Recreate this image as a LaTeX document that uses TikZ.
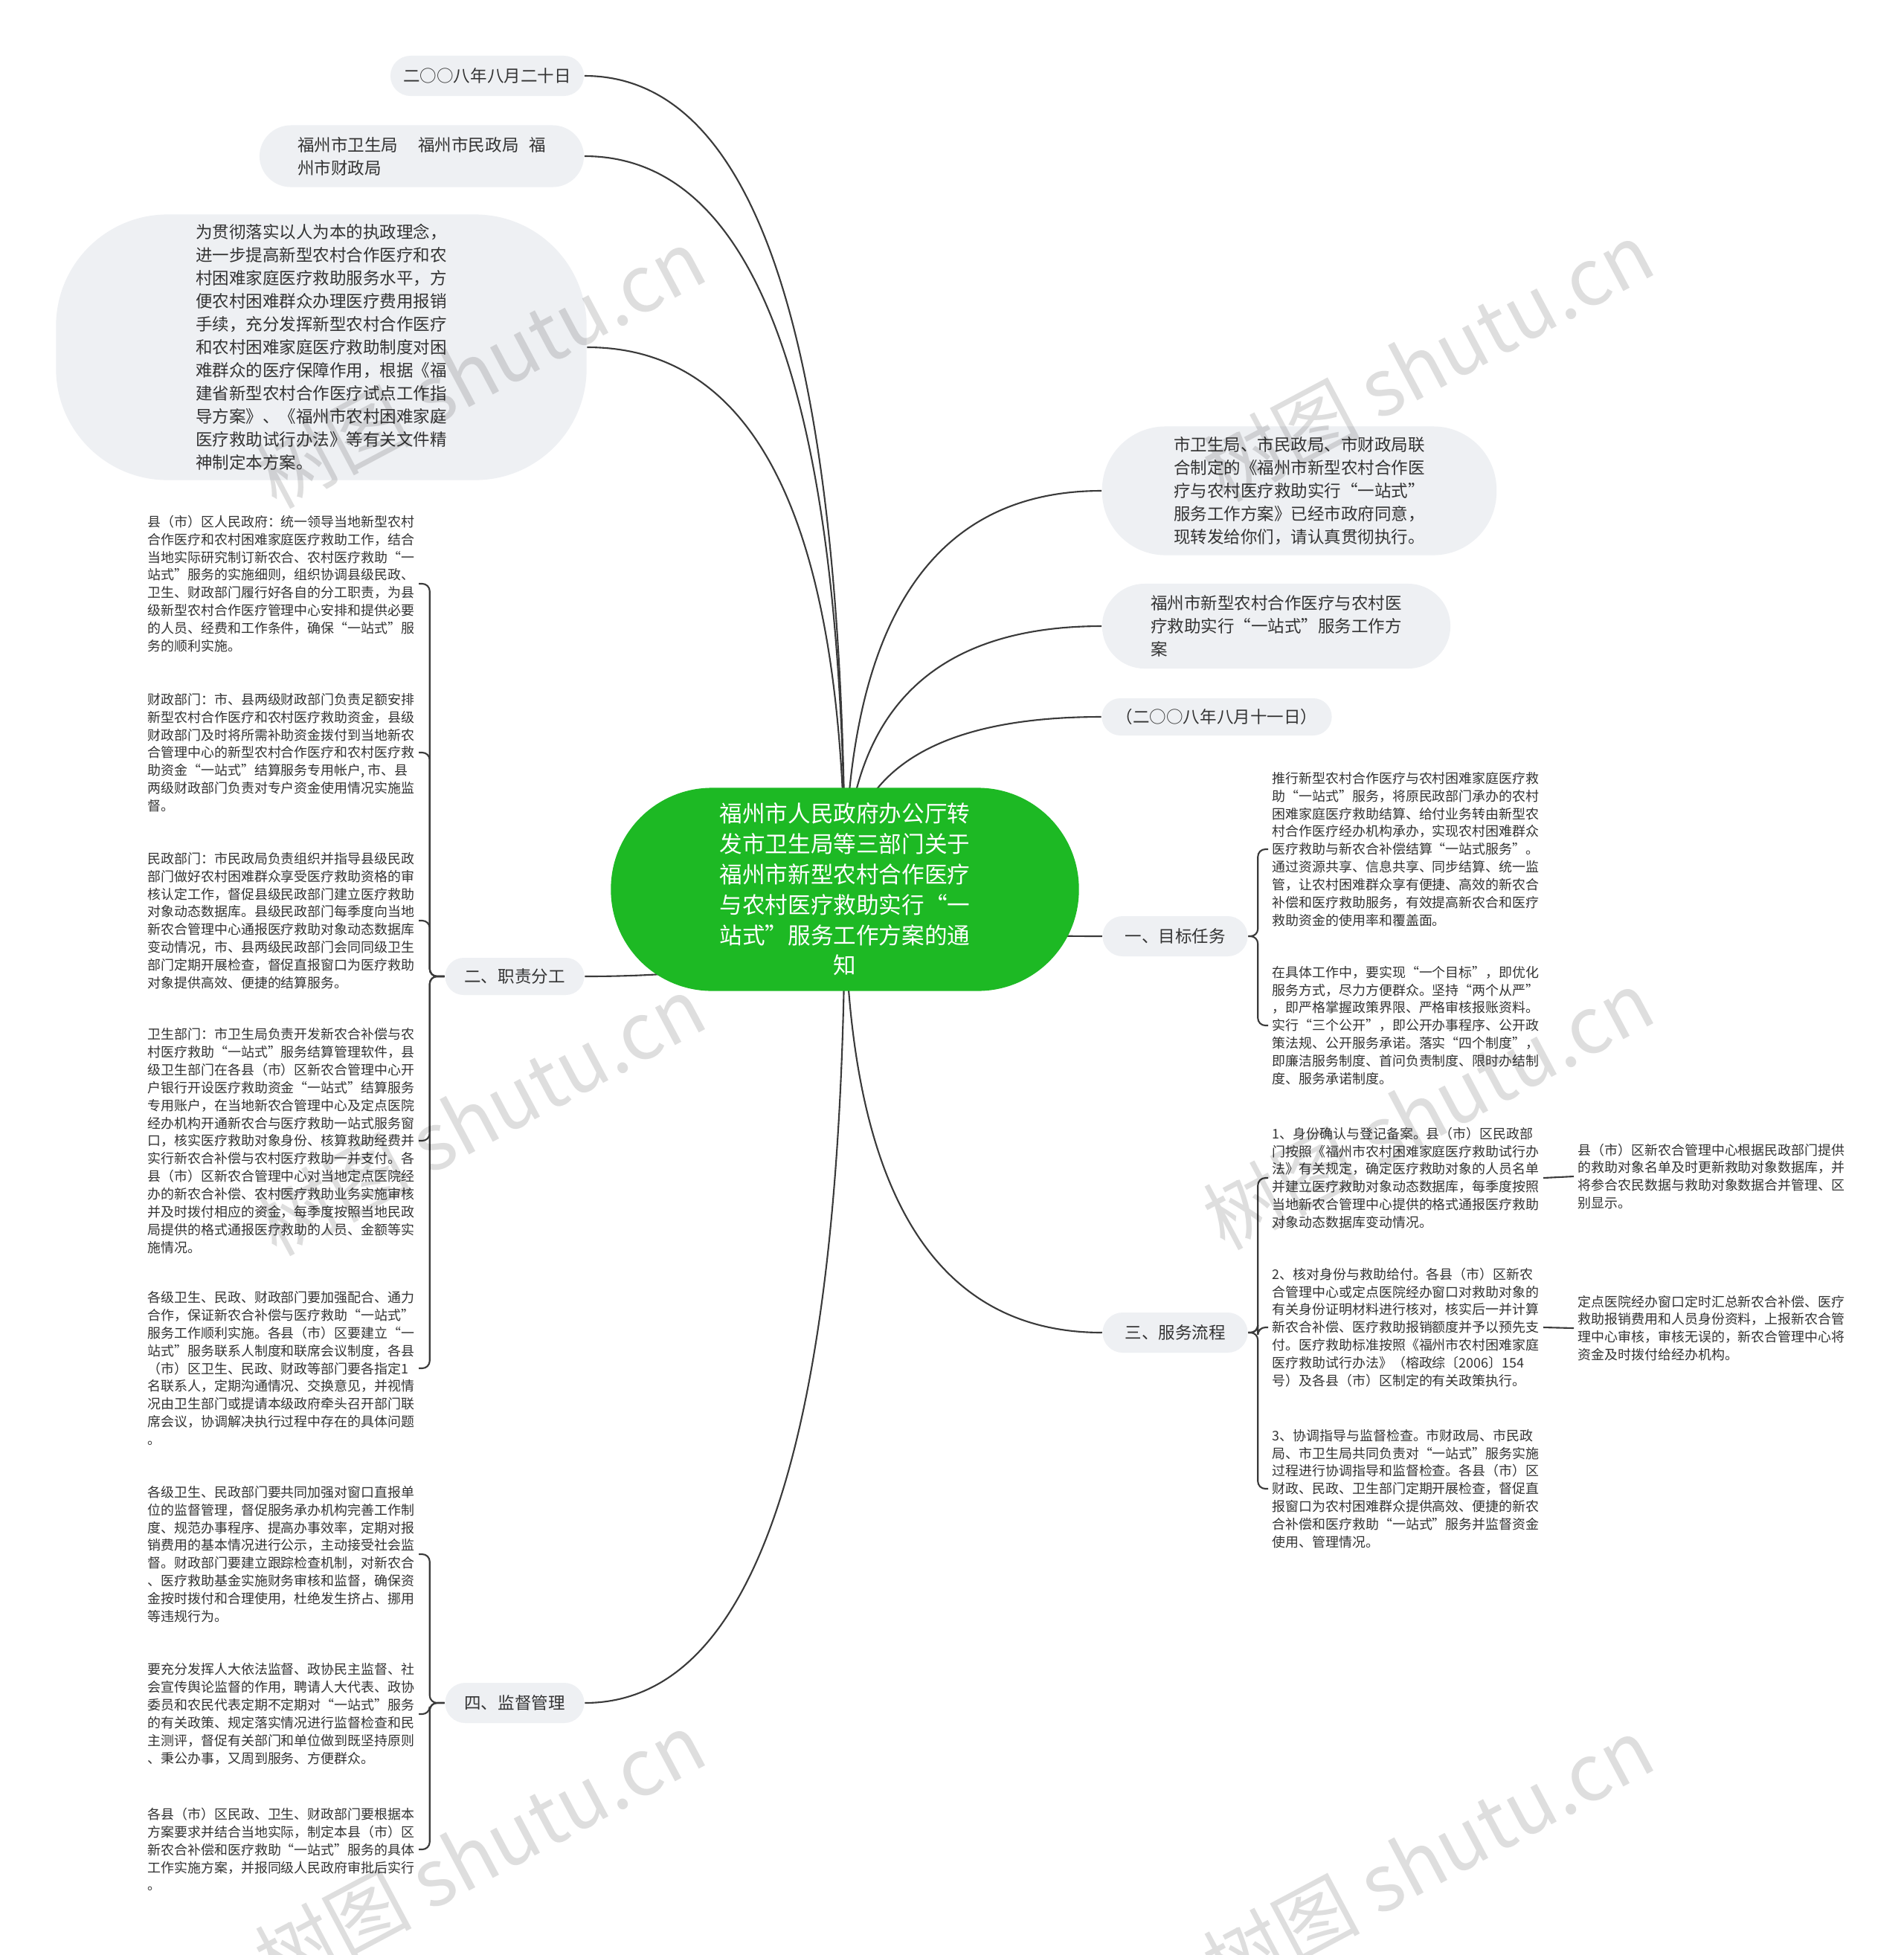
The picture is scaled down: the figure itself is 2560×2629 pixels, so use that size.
\documentclass[tikz,border=0pt]{standalone}
\usepackage{fontspec}
\setmainfont{Noto Sans CJK SC}
\usepackage{xcolor}
\usetikzlibrary{backgrounds,calc}
\definecolor{rootgreen}{RGB}{29,185,36}
\definecolor{topicgray}{HTML}{EEF0F3}
\definecolor{txtgray}{HTML}{333333}
\definecolor{linegray}{HTML}{3A3A3A}

\begin{document}
\begin{tikzpicture}[x=0.01cm, y=-0.01cm,
  topic/.style={fill=topicgray, text=txtgray, align=left, inner sep=0pt, rounded corners=#1, font=\fontsize{6.4}{8.8}\selectfont},
  topic/.default=0.27cm,
  leaf/.style={text=txtgray, align=left, inner sep=0.5mm, font=\fontsize{5.1}{6.8}\selectfont},
  link/.style={draw=linegray, line width=0.6pt},
  brace/.style={link, rounded corners=1mm},
  wmark/.style={text=black, text opacity=0.13, rotate=28, font=\fontsize{30}{30}\selectfont}]
\useasboundingbox (0,0) rectangle (2560,2629);

% root
\node[fill=rootgreen, text=white, rounded corners=1.36cm, minimum width=6.29cm, minimum height=2.73cm, align=center, inner sep=0pt, font=\fontsize{8.7}{11.6}\selectfont] (root) at (1136,1196) {福州市人民政府办公厅转\\发市卫生局等三部门关于\\福州市新型农村合作医疗\\与农村医疗救助实行“一\\站式”服务工作方案的通\\知};

% first level
\node[topic, minimum width=2.60cm, minimum height=0.54cm] (d1) at (655,102) {二○○八年八月二十日};
\node[topic=0.42cm, minimum width=4.36cm, minimum height=0.83cm] (bu) at (567,210) {福州市卫生局\hspace{1.2em}福州市民政局\hspace{0.6em}福\\州市财政局};
\node[topic=1.5cm, minimum width=7.13cm, minimum height=3.57cm] (pre) at (432,467) {为贯彻落实以人为本的执政理念，\\进一步提高新型农村合作医疗和农\\村困难家庭医疗救助服务水平，方\\便农村困难群众办理医疗费用报销\\手续，充分发挥新型农村合作医疗\\和农村困难家庭医疗救助制度对困\\难群众的医疗保障作用，根据《福\\建省新型农村合作医疗试点工作指\\导方案》、《福州市农村困难家庭\\医疗救助试行办法》等有关文件精\\神制定本方案。};
\node[topic=0.85cm, minimum width=5.30cm, minimum height=1.73cm] (note) at (1747,660) {市卫生局、市民政局、市财政局联\\合制定的《福州市新型农村合作医\\疗与农村医疗救助实行“一站式”\\服务工作方案》已经市政府同意，\\现转发给你们，请认真贯彻执行。};
\node[topic=0.57cm, minimum width=4.68cm, minimum height=1.14cm] (plan) at (1716,842) {福州市新型农村合作医疗与农村医\\疗救助实行“一站式”服务工作方\\案};
\node[topic=0.25cm, minimum width=3.09cm, minimum height=0.50cm] (d2) at (1636,964) {（二○○八年八月十一日）};
\node[topic, minimum width=1.95cm, minimum height=0.54cm] (goal) at (1580,1259) {一、目标任务};
\node[topic, minimum width=1.95cm, minimum height=0.54cm] (flow) at (1580,1792) {三、服务流程};
\node[topic=0.25cm, minimum width=1.87cm, minimum height=0.50cm] (duty) at (692,1313) {二、职责分工};
\node[topic, minimum width=1.87cm, minimum height=0.54cm] (sup) at (692,2290) {四、监督管理};

% 二、职责分工
\node[leaf, anchor=east] (l1) at (563,785) {县（市）区人民政府：统一领导当地新型农村\\合作医疗和农村困难家庭医疗救助工作，结合\\当地实际研究制订新农合、农村医疗救助“一\\站式”服务的实施细则，组织协调县级民政、\\卫生、财政部门履行好各自的分工职责，为县\\级新型农村合作医疗管理中心安排和提供必要\\的人员、经费和工作条件，确保“一站式”服\\务的顺利实施。};
\node[leaf, anchor=east] (l2) at (563,1012) {财政部门：市、县两级财政部门负责足额安排\\新型农村合作医疗和农村医疗救助资金，县级\\财政部门及时将所需补助资金拨付到当地新农\\合管理中心的新型农村合作医疗和农村医疗救\\助资金“一站式”结算服务专用帐户, 市、县\\两级财政部门负责对专户资金使用情况实施监\\督。};
\node[leaf, anchor=east] (l3) at (563,1238) {民政部门：市民政局负责组织并指导县级民政\\部门做好农村困难群众享受医疗救助资格的审\\核认定工作，督促县级民政部门建立医疗救助\\对象动态数据库。县级民政部门每季度向当地\\新农合管理中心通报医疗救助对象动态数据库\\变动情况，市、县两级民政部门会同同级卫生\\部门定期开展检查，督促直报窗口为医疗救助\\对象提供高效、便捷的结算服务。};
\node[leaf, anchor=east] (l4) at (563,1534) {卫生部门：市卫生局负责开发新农合补偿与农\\村医疗救助“一站式”服务结算管理软件，县\\级卫生部门在各县（市）区新农合管理中心开\\户银行开设医疗救助资金“一站式”结算服务\\专用账户，在当地新农合管理中心及定点医院\\经办机构开通新农合与医疗救助一站式服务窗\\口，核实医疗救助对象身份、核算救助经费并\\实行新农合补偿与农村医疗救助一并支付。各\\县（市）区新农合管理中心对当地定点医院经\\办的新农合补偿、农村医疗救助业务实施审核\\并及时拨付相应的资金，每季度按照当地民政\\局提供的格式通报医疗救助的人员、金额等实\\施情况。};
\node[leaf, anchor=east] (l5) at (563,1840) {各级卫生、民政、财政部门要加强配合、通力\\合作，保证新农合补偿与医疗救助“一站式”\\服务工作顺利实施。各县（市）区要建立“一\\站式”服务联系人制度和联席会议制度，各县\\（市）区卫生、民政、财政等部门要各指定1\\名联系人，定期沟通情况、交换意见，并视情\\况由卫生部门或提请本级政府牵头召开部门联\\席会议，协调解决执行过程中存在的具体问题\\。};

% 四、监督管理
\node[leaf, anchor=east] (l6) at (563,2090) {各级卫生、民政部门要共同加强对窗口直报单\\位的监督管理，督促服务承办机构完善工作制\\度、规范办事程序、提高办事效率，定期对报\\销费用的基本情况进行公示，主动接受社会监\\督。财政部门要建立跟踪检查机制，对新农合\\、医疗救助基金实施财务审核和监督，确保资\\金按时拨付和合理使用，杜绝发生挤占、挪用\\等违规行为。};
\node[leaf, anchor=east] (l7) at (563,2305) {要充分发挥人大依法监督、政协民主监督、社\\会宣传舆论监督的作用，聘请人大代表、政协\\委员和农民代表定期不定期对“一站式”服务\\的有关政策、规定落实情况进行监督检查和民\\主测评，督促有关部门和单位做到既坚持原则\\、秉公办事，又周到服务、方便群众。};
\node[leaf, anchor=east] (l8) at (563,2487) {各县（市）区民政、卫生、财政部门要根据本\\方案要求并结合当地实际，制定本县（市）区\\新农合补偿和医疗救助“一站式”服务的具体\\工作实施方案，并报同级人民政府审批后实行\\。};

% 一、目标任务
\node[leaf, anchor=west] (g1) at (1705,1142) {推行新型农村合作医疗与农村困难家庭医疗救\\助“一站式”服务，将原民政部门承办的农村\\困难家庭医疗救助结算、给付业务转由新型农\\村合作医疗经办机构承办，实现农村困难群众\\医疗救助与新农合补偿结算“一站式服务”。\\通过资源共享、信息共享、同步结算、统一监\\管，让农村困难群众享有便捷、高效的新农合\\补偿和医疗救助服务，有效提高新农合和医疗\\救助资金的使用率和覆盖面。};
\node[leaf, anchor=west] (g2) at (1705,1379) {在具体工作中，要实现“一个目标”，即优化\\服务方式，尽力方便群众。坚持“两个从严”\\，即严格掌握政策界限、严格审核报账资料。\\实行“三个公开”，即公开办事程序、公开政\\策法规、公开服务承诺。落实“四个制度”，\\即廉洁服务制度、首问负责制度、限时办结制\\度、服务承诺制度。};

% 三、服务流程
\node[leaf, anchor=west] (s1) at (1705,1584) {1、身份确认与登记备案。县（市）区民政部\\门按照《福州市农村困难家庭医疗救助试行办\\法》有关规定，确定医疗救助对象的人员名单\\并建立医疗救助对象动态数据库，每季度按照\\当地新农合管理中心提供的格式通报医疗救助\\对象动态数据库变动情况。};
\node[leaf, anchor=west] (s2) at (1705,1785) {2、核对身份与救助给付。各县（市）区新农\\合管理中心或定点医院经办窗口对救助对象的\\有关身份证明材料进行核对，核实后一并计算\\新农合补偿、医疗救助报销额度并予以预先支\\付。医疗救助标准按照《福州市农村困难家庭\\医疗救助试行办法》（榕政综〔2006〕154\\号）及各县（市）区制定的有关政策执行。};
\node[leaf, anchor=west] (s3) at (1705,2002) {3、协调指导与监督检查。市财政局、市民政\\局、市卫生局共同负责对“一站式”服务实施\\过程进行协调指导和监督检查。各县（市）区\\财政、民政、卫生部门定期开展检查，督促直\\报窗口为农村困难群众提供高效、便捷的新农\\合补偿和医疗救助“一站式”服务并监督资金\\使用、管理情况。};
\node[leaf, anchor=west] (s1x) at (2116,1582) {县（市）区新农合管理中心根据民政部门提供\\的救助对象名单及时更新救助对象数据库，并\\将参合农民数据与救助对象数据合并管理、区\\别显示。};
\node[leaf, anchor=west] (s2x) at (2116,1786) {定点医院经办窗口定时汇总新农合补偿、医疗\\救助报销费用和人员身份资料，上报新农合管\\理中心审核，审核无误的，新农合管理中心将\\资金及时拨付给经办机构。};

% connectors
\begin{scope}[on background layer]
\fill[white] (0,0) rectangle (2560,2629);
\foreach \t in {d1,bu,pre,duty,sup}
  \draw[link] (root.center) .. controls ($(root.center)!0.667!(root.center |- \t.east)$) and ($(\t.east)!0.667!(root.center |- \t.east)$) .. (\t.east);
\foreach \t in {note,plan,d2,goal,flow}
  \draw[link] (root.center) .. controls ($(root.center)!0.667!(root.center |- \t.west)$) and ($(\t.west)!0.667!(root.center |- \t.west)$) .. (\t.west);
\end{scope}
\foreach \t in {l1,l2,l3,l4,l5}
  \draw[brace] (duty.west) -- ++(-20,0) |- (\t.east);
\foreach \t in {l6,l7,l8}
  \draw[brace] (sup.west) -- ++(-20,0) |- (\t.east);
\foreach \t in {g1,g2}
  \draw[brace] (goal.east) -- ++(13,0) |- (\t.west);
\foreach \t in {s1,s2,s3}
  \draw[brace] (flow.east) -- ++(13,0) |- (\t.west);
\draw[link] (s1.east) -- (s1x.west);
\draw[link] (s2.east) -- (s2x.west);

% watermark
\foreach \x/\y [count=\i] in {645/495,1920/486,645/1500,1920/1492,645/2490,1920/2497}
  \node[wmark] (w\i) at (\x,\y) {树图 shutu.cn};
\end{tikzpicture}
\end{document}
